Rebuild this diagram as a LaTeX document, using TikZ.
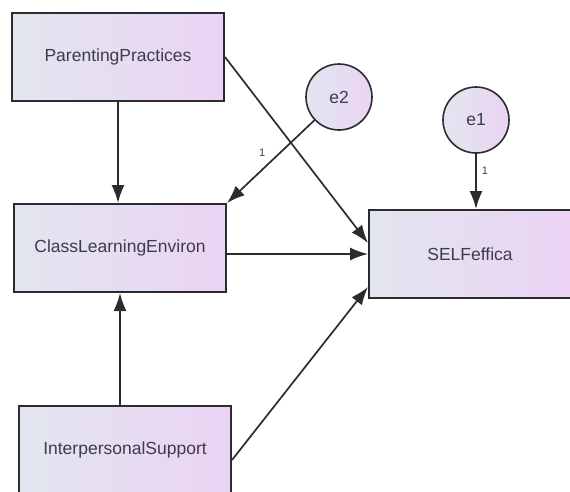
\documentclass[tikz,border=0pt]{standalone}
\usepackage{fontspec}
\setmainfont{Liberation Sans}
\usepackage{xcolor}
\usetikzlibrary{arrows.meta, positioning}
\definecolor{boxleft}{HTML}{E2E6EF}
\definecolor{boxright}{HTML}{EBD3F4}
\definecolor{edge}{HTML}{2C2C30}
\definecolor{txt}{HTML}{3C3C4C}

\begin{document}
\begin{tikzpicture}[
    x=1pt, y=-1pt,
    var/.style={rectangle, draw=edge, line width=2pt, left color=boxleft, right color=boxright, minimum width=212pt, minimum height=88pt, text=txt, font=\fontsize{17.5}{20}\selectfont},
    err/.style={circle, draw=edge, line width=1.6pt, left color=boxleft, right color=boxright, minimum size=66pt, inner sep=0pt, text=txt, font=\fontsize{17.5}{20}\selectfont},
    path/.style={-{Latex[length=18pt, width=13pt]}, line width=1.7pt, draw=edge},
    wt/.style={font=\fontsize{11}{13}\selectfont, text=txt, inner sep=1pt},
]
\useasboundingbox (0,0) rectangle (570,491);

% Observed variables
\node[var] (parent) at (118,57) {ParentingPractices};
\node[var] (classenv) at (120,248) {ClassLearningEnviron};
\node[var] (support) at (125,450) {InterpersonalSupport};
\node[var, minimum width=202pt] (selfeff) at (470,254) {SELFeffica};

% Error terms
\node[err] (e2) at (339,97) {e2};
\node[err] (e1) at (476,120) {e1};

% Paths
\draw[path] (parent.south) -- (parent.south |- classenv.north);
\draw[path] (support.north -| classenv.south) -- (classenv.south);
\draw[path] (parent.east) -- ([yshift=11pt]selfeff.west);
\draw[path] (classenv.east |- selfeff.west) -- (selfeff.west);
\draw[path] ([yshift=-10pt]support.east) -- ([yshift=-33pt]selfeff.west);
\draw[path] (e2) -- node[wt, pos=0.5, above left=5pt] {1} (classenv.north east);
\draw[path] (e1) -- node[wt, pos=0.3, right=4pt] {1} (e1 |- selfeff.north);

\end{tikzpicture}
\end{document}
